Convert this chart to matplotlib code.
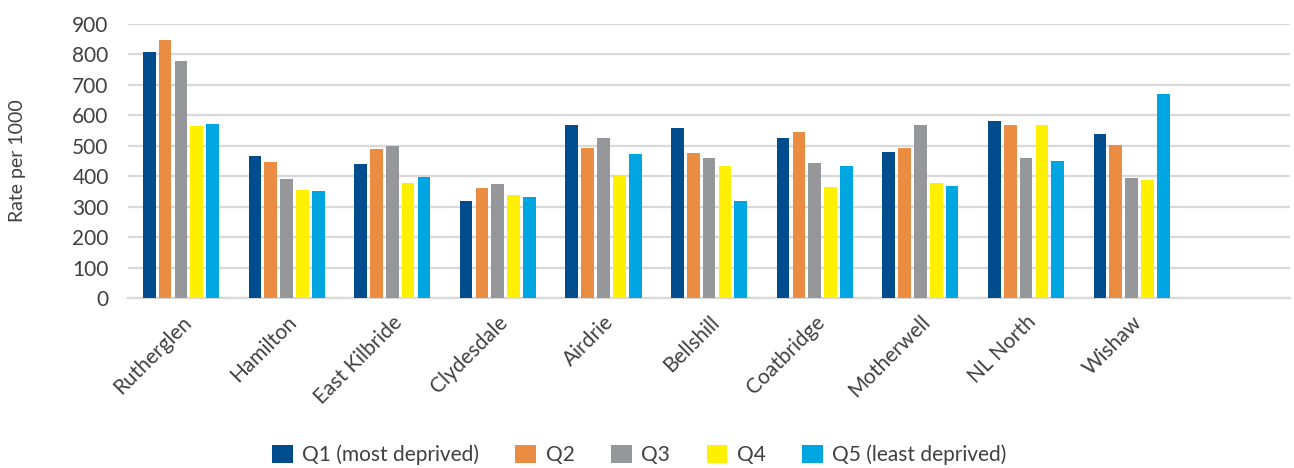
import numpy as np
import matplotlib
matplotlib.use("Agg")
import matplotlib.pyplot as plt

# values (rate per 1000)
areas = ["Rutherglen", "Hamilton", "East Kilbride", "Clydesdale", "Airdrie",
         "Bellshill", "Coatbridge", "Motherwell", "NL North", "Wishaw"]
series_names = ["Q1 (most deprived)", "Q2", "Q3", "Q4", "Q5 (least deprived)"]
q1 = [808, 468, 439, 318, 569, 559, 524, 479, 582, 537]
q2 = [848, 446, 490, 361, 494, 476, 546, 494, 569, 501]
q3 = [778, 390, 498, 374, 527, 461, 443, 569, 461, 393]
q4 = [566, 355, 377, 340, 402, 432, 365, 377, 569, 386]
q5 = [572, 352, 396, 333, 472, 318, 432, 368, 450, 671]
colors = ["#004C8C", "#EB8C43", "#96979B", "#FFEF00", "#00A6E2"]

plt.rcParams['font.family'] = ['Lato', 'DejaVu Sans']
text_col = '#404040'

fig = plt.figure(figsize=(12.94, 4.68), dpi=100)
ax = fig.add_axes([0.099, 0.363, 0.898, 0.586])

x = np.arange(len(areas))
width = 0.12
pitch = 0.15
for i, (vals, name, c) in enumerate(zip([q1, q2, q3, q4, q5], series_names, colors)):
    ax.bar(x + (i - 2) * pitch, vals, width, color=c, label=name, zorder=3)

ax.set_xlim(-0.5, len(areas) + 0.5)   # an empty slot is left on the right
ax.set_ylim(0, 900)
ax.set_yticks(range(0, 901, 100))
ax.yaxis.grid(True, color='#D9D9D9', lw=1.6, zorder=0)
ax.set_axisbelow(True)
for s in ['top', 'right', 'left']:
    ax.spines[s].set_visible(False)
ax.spines['bottom'].set_color('#D9D9D9')
ax.spines['bottom'].set_linewidth(1.6)

ax.set_xticks(x)
ax.set_xticklabels(areas, rotation=45, ha='right', rotation_mode='anchor',
                   fontsize=15, color=text_col)
ax.tick_params(axis='x', length=0, pad=10)
ax.tick_params(axis='y', length=0, pad=14, labelsize=15, labelcolor=text_col)

ax.set_ylabel("Rate per 1000", fontsize=14, color=text_col)
ax.yaxis.set_label_coords(-0.088, 0.5)

fig.legend(loc='center', bbox_to_anchor=(0.494, 1 - 455 / 468), ncol=5,
           frameon=False, fontsize=15, handlelength=1.0, handleheight=1.0,
           handletextpad=0.45, columnspacing=1.75, labelcolor=text_col)

fig.savefig('out.png', dpi=100)
